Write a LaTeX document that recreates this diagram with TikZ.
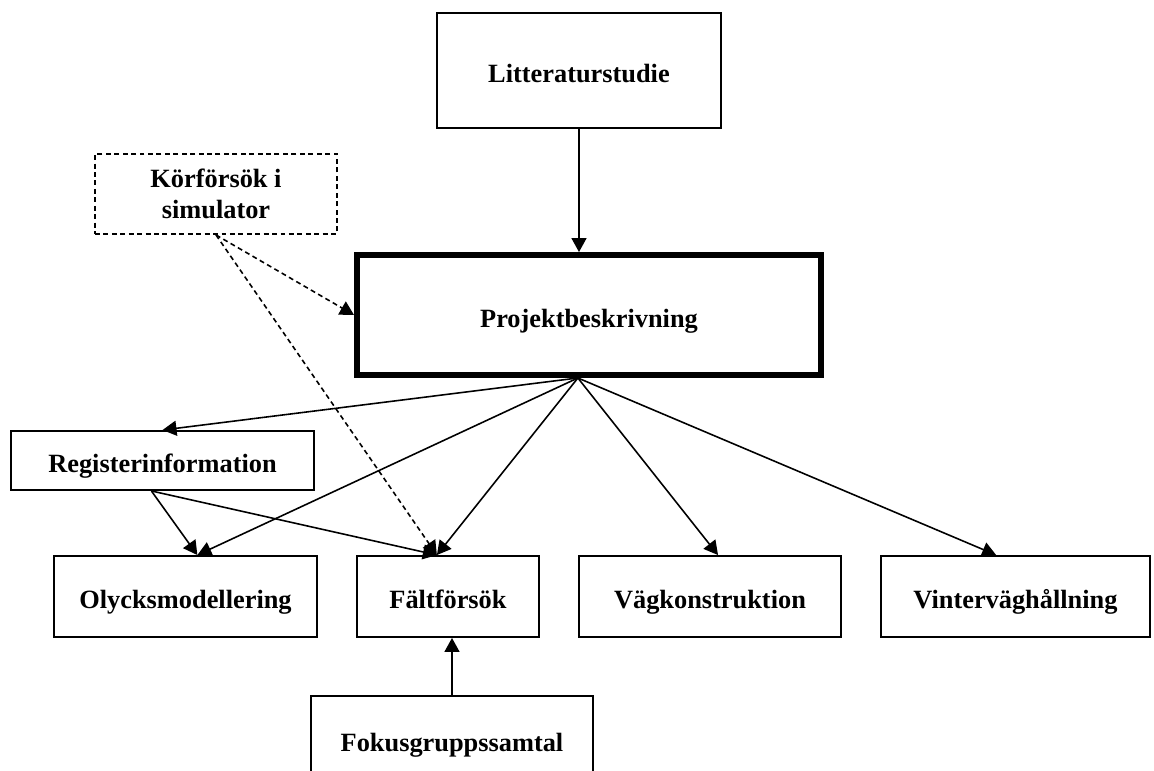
\documentclass[tikz,border=0pt]{standalone}
\usepackage{fontspec}
\setmainfont{Liberation Serif}
\usetikzlibrary{arrows.meta}
\tikzset{box/.style={draw, line width=1.1pt, font=\bfseries\fontsize{15}{17.6}\selectfont, align=center, inner sep=0pt,
    text height=16pt, text depth=2.3pt},
  row/.style={box, minimum height=1.62cm},
  arr/.style={-{Triangle[length=0.28cm,width=0.3cm]}, line width=0.9pt},
  dsh/.style={dash pattern=on 2.8pt off 2pt}}

\begin{document}
\begin{tikzpicture}[x=0.02cm, y=-0.02cm]
\useasboundingbox (0,0) rectangle (1154,771);
\clip (0,0) rectangle (1154,771);
\node[box, minimum width=5.68cm, minimum height=2.3cm] (lit) at (579,70.5) {Litteraturstudie};
\node[box, dsh, text height={}, text depth={}, minimum width=4.84cm, minimum height=1.6cm] (kor) at (216,194) {Körförsök i\\simulator};
\node[box, line width=3.4pt, minimum width=9.28cm, minimum height=2.4cm] (proj) at (589,315) {Projektbeskrivning};
\node[box, minimum width=6.06cm, minimum height=1.18cm] (reg) at (162.5,460.5) {Registerinformation};
\node[row, minimum width=5.26cm] (oly) at (185.5,596.5) {Olycksmodellering};
\node[row, minimum width=3.64cm] (falt) at (448,596.5) {Fältförsök};
\node[row, minimum width=5.24cm] (vag) at (710,596.5) {Vägkonstruktion};
\node[row, minimum width=5.38cm] (vint) at (1015.5,596.5) {Vinterväghållning};
\node[box, minimum width=5.64cm, minimum height=1.72cm] (fok) at (452,739) {Fokusgruppssamtal};

\draw[arr] (lit.south) -- (lit.south |- proj.north);
\foreach \t in {reg.north, oly.74, falt.105, vag.79, vint.115}
  \draw[arr] (proj.260) -- (\t);
\foreach \t in {oly.74, falt.105}
  \draw[arr] (reg.250) -- (\t);
\draw[arr, dsh] (kor.south) -- (proj.west);
\draw[arr, dsh] (kor.south) -- (falt.105);
\draw[arr] (fok.north) -- (fok.north |- falt.south);
\end{tikzpicture}
\end{document}
